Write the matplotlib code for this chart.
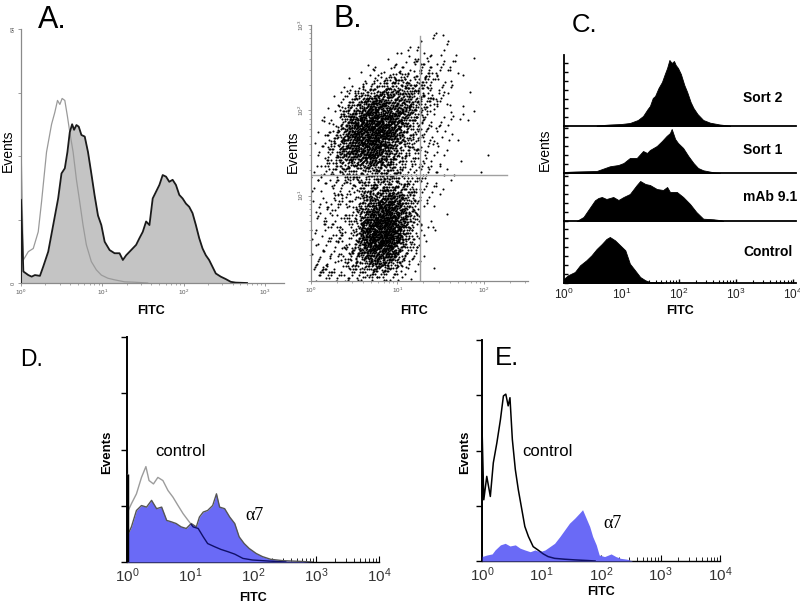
import numpy as np
import matplotlib.pyplot as plt
from matplotlib.ticker import LogLocator, NullFormatter, NullLocator, MultipleLocator

plt.rcParams['font.family'] = ['Liberation Sans', 'DejaVu Sans']
plt.rcParams['mathtext.fontset'] = 'custom'
plt.rcParams['mathtext.rm'] = 'Liberation Sans'
plt.rcParams['mathtext.bf'] = 'Liberation Sans:bold'

# *** data (x in decades of FITC, y in events) ***
# A: single histogram overlay
a_ctrl_dec = [0, 0, 0.029, 0.09, 0.151, 0.212, 0.253, 0.314, 0.376, 0.416, 0.449, 0.478, 0.506, 0.539,
              0.571, 0.6, 0.641, 0.682, 0.722, 0.763, 0.804, 0.865, 0.927, 0.988, 1.069, 1.151, 1.273,
              1.396, 1.559]
a_ctrl = [0, 35, 5.8, 7.9, 8.7, 12.9, 20.5, 33, 40, 43, 46, 45, 46.5, 46, 42, 38, 33, 26, 20.5, 14.6,
          9.6, 5.4, 3.3, 2.0, 1.2, 0.8, 0.3, 0.2, 0]
a_smp_dec = [0, 0, 0.029, 0.09, 0.131, 0.171, 0.233, 0.273, 0.335, 0.396, 0.457, 0.498, 0.539, 0.571,
             0.6, 0.629, 0.653, 0.682, 0.71, 0.743, 0.784, 0.824, 0.865, 0.906, 0.947, 0.988, 1.029,
             1.09, 1.151, 1.212, 1.253, 1.294, 1.355, 1.416, 1.457, 1.498, 1.539, 1.58, 1.62, 1.661,
             1.702, 1.743, 1.784, 1.824, 1.865, 1.906, 1.947, 1.988, 2.029, 2.069, 2.11, 2.151, 2.192,
             2.233, 2.273, 2.314, 2.355, 2.396, 2.457, 2.518, 2.58, 2.641, 2.78]
a_smp = [0, 21, 2.9, 2.0, 1.6, 2.0, 1.8, 4.1, 7.9, 14.6, 21.3, 27.6, 28.9, 33, 38, 40, 38.6, 39.8, 39.4,
         37.3, 36.9, 33, 27.6, 22, 17, 14.6, 10.4, 8.3, 7.5, 7.5, 5.8, 7, 8.3, 9.6, 11.3, 12.9, 15.5,
         14.6, 21.3, 23, 24.7, 27.2, 26.8, 25.5, 26, 24.7, 22.2, 21.3, 20, 19.2, 17.6, 14.6, 11.3, 8.7,
         7, 5.8, 4.1, 2.4, 1.6, 1.0, 0.3, 0.1, 0]

# B: dot plot, event counts per 0.2-decade cell (rows bottom -> top, columns left -> right)
b_x_centers = [0.1, 0.3, 0.5, 0.7, 0.9, 1.1, 1.3, 1.5, 1.7, 1.9, 2.1, 2.3, 2.5]
b_y_centers = [0.1, 0.3, 0.5, 0.7, 0.9, 1.1, 1.3, 1.5, 1.7, 1.9, 2.1, 2.3, 2.5, 2.7, 2.9]
b_counts = [
    [22, 22, 25, 38, 30, 8, 2, 0, 0, 0, 0, 0, 0],
    [9, 15, 30, 140, 145, 22, 2, 0, 0, 0, 0, 0, 0],
    [9, 15, 30, 195, 230, 55, 3, 0, 0, 0, 0, 0, 0],
    [9, 15, 25, 175, 230, 80, 6, 0, 0, 0, 0, 0, 0],
    [9, 15, 20, 100, 165, 70, 9, 2, 0, 0, 0, 0, 0],
    [8, 15, 22, 45, 68, 45, 12, 3, 0, 0, 0, 0, 0],
    [8, 28, 52, 60, 52, 30, 12, 5, 2, 0, 1, 0, 0],
    [6, 40, 135, 165, 95, 30, 12, 6, 0, 1, 0, 0, 0],
    [3, 35, 160, 200, 150, 55, 15, 8, 2, 0, 0, 0, 0],
    [0, 14, 110, 180, 165, 80, 22, 8, 3, 1, 0, 0, 0],
    [0, 5, 45, 110, 120, 80, 30, 9, 3, 0, 0, 0, 0],
    [0, 0, 5, 22, 45, 55, 38, 12, 3, 0, 0, 0, 0],
    [0, 0, 0, 2, 6, 15, 18, 9, 3, 0, 0, 0, 0],
    [0, 0, 0, 0, 0, 3, 6, 6, 2, 0, 0, 0, 0],
    [0, 0, 0, 0, 0, 0, 1, 2, 0, 0, 0, 0, 0],
]
b_gate_x = 18
b_gate_y = 17.5

# C: stacked histograms
c_names = ["Sort 2", "Sort 1", "mAb 9.1", "Control"]
c_dec = [
    [0.57, 0.8, 1.0, 1.15, 1.29, 1.38, 1.46, 1.5, 1.55, 1.59, 1.65, 1.71, 1.76, 1.8, 1.84, 1.88, 1.92,
     1.95, 1.99, 2.04, 2.1, 2.15, 2.21, 2.26, 2.33, 2.43, 2.55, 2.72, 2.9],
    [0.0, 0.2, 0.57, 0.8, 0.95, 1.04, 1.15, 1.27, 1.38, 1.45, 1.5, 1.62, 1.71, 1.79, 1.85, 1.88, 1.94,
     1.99, 2.08, 2.17, 2.26, 2.34, 2.43, 2.61, 2.72],
    [0.22, 0.34, 0.42, 0.54, 0.6, 0.66, 0.74, 0.86, 0.95, 1.04, 1.15, 1.27, 1.33, 1.36, 1.42, 1.5, 1.62,
     1.73, 1.8, 1.85, 1.97, 2.08, 2.2, 2.31, 2.43, 2.61, 2.75, 2.78],
    [0, 0.07, 0.19, 0.28, 0.39, 0.48, 0.57, 0.66, 0.74, 0.8, 0.89, 0.98, 1.07, 1.15, 1.24, 1.33, 1.42,
     1.5, 1.67, 1.73],
]
c_events = [
    [0.5, 1.5, 2, 3, 6, 10, 17, 20, 28, 30, 38, 44, 52, 58, 66, 63, 65, 61, 58, 52, 41, 34, 24, 18, 12,
     6, 3.3, 1.5, 0.3],
    [1, 1.5, 2, 6.7, 8, 10, 15, 15, 22, 20, 23, 27, 32, 37, 40, 44, 34, 30, 25, 17, 10, 5, 2.7, 0.7, 0],
    [0, 4, 10.7, 20.7, 23, 24, 22, 24, 21, 24, 27, 36, 40, 39, 37, 36, 32, 31, 34, 29, 29, 24, 17, 9,
     2.3, 1.7, 0.7, 0],
    [4.3, 7.7, 11, 17.7, 22.7, 27.7, 34, 39, 44, 46, 42.7, 37.7, 32.7, 19.3, 12.7, 6, 2.7, 1, 0.7, 0],
]
c_ymax = [71, 47, 48, 62]

# D
d_ctrl_dec = [0, 0, 0.02, 0.07, 0.15, 0.23, 0.3, 0.35, 0.42, 0.49, 0.57, 0.65, 0.73, 0.81, 0.89, 0.97,
              1.05, 1.13, 1.21, 1.28, 1.39, 1.49, 1.6, 1.71, 1.84, 1.99, 2.26, 2.52]
d_ctrl = [0, 55, 22.9, 25.9, 30.3, 37.6, 42.4, 36.2, 34.7, 37.6, 36.2, 31.8, 28.8, 25.1, 21.5, 18.5,
          15.6, 14.9, 11.2, 8.2, 6.8, 5.6, 4.6, 3.5, 1.6, 0.9, 0.4, 0]
d_a7_dec = [0, 0, 0.02, 0.07, 0.15, 0.23, 0.31, 0.39, 0.47, 0.55, 0.63, 0.71, 0.78, 0.86, 0.94, 1.02,
            1.1, 1.15, 1.21, 1.28, 1.36, 1.42, 1.47, 1.55, 1.63, 1.71, 1.78, 1.86, 1.94, 2.05, 2.15,
            2.28, 2.47, 2.73, 2.94]
d_a7 = [0, 39, 12.6, 15.6, 22.9, 25.1, 24.4, 27.4, 23.7, 24.4, 18.5, 17.8, 17.1, 15.6, 14.9, 17.1,
        15.6, 20, 22.2, 22.9, 25.1, 30.3, 24.4, 23.7, 20, 17.1, 11.2, 8.2, 6, 3.8, 2.4, 1.2, 0.6, 0.3, 0]

# E
e_ctrl_dec = [0, 0, 0.03, 0.08, 0.14, 0.19, 0.25, 0.31, 0.36, 0.4, 0.44, 0.47, 0.51, 0.56, 0.61, 0.67,
              0.72, 0.78, 0.86, 0.94, 1.03, 1.11, 1.22, 1.39, 1.56, 1.78, 1.9]
e_ctrl = [0, 61, 27.7, 38.3, 29.2, 44.4, 53.5, 64, 74.7, 75.5, 70.2, 73.9, 55, 41.4, 32.3, 23.2, 15.6,
          11.1, 6.5, 5, 3.2, 2, 1.2, 0.8, 0.5, 0.2, 0]
e_a7_dec = [0, 0.08, 0.17, 0.22, 0.31, 0.39, 0.47, 0.56, 0.64, 0.72, 0.81, 0.89, 0.97, 1.06, 1.14,
            1.22, 1.31, 1.39, 1.47, 1.56, 1.64, 1.69, 1.75, 1.81, 1.86, 1.92, 1.97, 2.06, 2.17, 2.25,
            2.33, 2.44, 2.53]
e_a7 = [2, 2.7, 3.2, 5, 7.3, 8, 6.8, 7.3, 5.8, 5, 4.2, 5, 4.2, 5, 6.5, 8, 11.1, 14.1, 17.1, 19.4, 21.7,
        23.2, 19.4, 15.6, 11.1, 7.3, 2.7, 2, 3.2, 2, 1.2, 0.8, 0]

W, H = 800, 609
BLUE = '#6a6af6'
fig = plt.figure(figsize=(W / 100, H / 100), dpi=100)


def px_axes(x0, y0, x1, y1):
    return fig.add_axes([x0 / W, 1 - y1 / H, (x1 - x0) / W, (y1 - y0) / H])


def px_text(x, y, s, **kw):
    return fig.text(x / W, 1 - y / H, s, **kw)


def fitc(dec):
    return 10 ** np.asarray(dec, dtype=float)


def sup_labels(n):
    return [r'$\mathregular{10^{%d}}$' % i for i in range(n)]


def log_minor(axis):
    axis.set_minor_locator(LogLocator(base=10, subs=np.arange(2, 10), numticks=20))
    axis.set_minor_formatter(NullFormatter())


def faint_axes(ax):
    for s in ['top', 'right']:
        ax.spines[s].set_visible(False)
    for s in ['left', 'bottom']:
        ax.spines[s].set_color('#8a8a8a')
        ax.spines[s].set_linewidth(0.9)
    ax.tick_params(length=2, width=0.6, color='#8a8a8a', pad=1.5)
    ax.tick_params(which='minor', length=1.2, width=0.5, color='#8a8a8a')


# *** A ***
ax = px_axes(21, 29, 284, 283)
ax.fill_between(fitc(a_smp_dec), a_smp, color='#c4c4c4', lw=0, zorder=1)
ax.plot(fitc(a_ctrl_dec), a_ctrl, color='#9a9a9a', lw=0.9, zorder=2)
ax.plot(fitc(a_smp_dec), a_smp, color='#1a1a1a', lw=1.3, zorder=3)
ax.set_xscale('log')
ax.set_xlim(1, 10 ** 3.235)
ax.set_ylim(0, 64)
ax.set_xticks([1, 10, 100, 1000])
ax.set_xticklabels(sup_labels(4), fontsize=4.5, color='#555555')
log_minor(ax.xaxis)
ax.set_yticks([0, 16, 32, 48, 64])
ax.set_yticklabels(['0', '', '', '', '64'], fontsize=4, rotation=90, va='center', color='#555555')
faint_axes(ax)

# *** B ***
# each cell's dots are laid out with a low-discrepancy pattern and a tent
# kernel one cell wide, so neighbouring cells blend without seams
ax = px_axes(311, 25, 528, 281)
B_CELL = 0.2
g = 1.1673039782614187
alph = [1 / g ** p for p in range(1, 5)]
xs, ys = [], []
k = 0
for r, row in enumerate(b_counts):
    for c, n in enumerate(row):
        i = np.arange(k, k + n)
        k += n
        u = [(0.5 + i * a) % 1 for a in alph]
        xs.append(b_x_centers[c] + B_CELL * (u[0] + u[1] - 1))
        ys.append(b_y_centers[r] + B_CELL * (u[2] + u[3] - 1))
xs = np.concatenate(xs)
ys = np.concatenate(ys)
ax.scatter(10 ** xs, 10 ** ys, s=2.2, marker='o', color='black', linewidths=0)
ax.plot([b_gate_x, b_gate_x], [1, 10 ** 2.87], color='#a0a0a0', lw=1.0)
ax.plot([1, 10 ** 2.27], [b_gate_y, b_gate_y], color='#a0a0a0', lw=1.0)
ax.set_xscale('log')
ax.set_yscale('log')
ax.set_xlim(1, 10 ** 2.51)
ax.set_ylim(1, 1000)
ax.set_xticks([1, 10, 100])
ax.set_xticklabels(sup_labels(3), fontsize=4.5, color='#555555')
ax.set_yticks([1, 10, 100, 1000])
ax.set_yticklabels([''] + sup_labels(4)[1:], fontsize=4.5, rotation=90, va='center', color='#555555')
log_minor(ax.xaxis)
log_minor(ax.yaxis)
faint_axes(ax)

# *** C ***
c_rows = [(55, 126), (126, 173), (173, 221), (221, 283)]
for idx, (top, bot) in enumerate(c_rows):
    ax = px_axes(564, top, 796, bot)
    ax.fill_between(fitc(c_dec[idx]), c_events[idx], color='black', lw=0.6, edgecolor='black')
    ax.set_xscale('log')
    ax.set_xlim(1, 10 ** 4.05)
    ax.set_ylim(0, c_ymax[idx])
    ax.patch.set_alpha(0)
    for s in ['top', 'right']:
        ax.spines[s].set_visible(False)
    ax.spines['left'].set_linewidth(1.3)
    ax.spines['bottom'].set_linewidth(1.3)
    ax.yaxis.set_major_locator(MultipleLocator(9))
    ax.set_yticklabels([])
    ax.tick_params(axis='y', direction='in', length=3, width=1)
    if idx < 3:
        ax.xaxis.set_major_locator(NullLocator())
        ax.xaxis.set_minor_locator(NullLocator())
    else:
        ax.set_xticks([1, 10, 100, 1000, 10000])
        ax.set_xticklabels(sup_labels(5), fontsize=8.5, color='#222222')
        log_minor(ax.xaxis)
        ax.tick_params(axis='x', direction='in', length=3, width=1, pad=3)
        ax.tick_params(axis='x', which='minor', direction='in', length=2, width=0.8)
    px_text(743, (top + bot) / 2 + (8 if idx == 0 else 0), c_names[idx], fontsize=10,
            fontweight='bold', va='center', ha='left')


def flow_axes(x0, y0, x1, y1):
    ax = px_axes(x0, y0, x1, y1)
    ax.set_xscale('log')
    ax.set_xlim(1, 1e4)
    ax.set_ylim(0, 100)
    for s in ['top', 'right']:
        ax.spines[s].set_visible(False)
    ax.spines['left'].set_linewidth(1.4)
    ax.spines['bottom'].set_linewidth(1.0)
    ax.set_yticks([0, 25, 50, 75, 100])
    ax.set_yticklabels([])
    ax.tick_params(axis='y', direction='out', length=4, width=1)
    ax.set_xticks([1, 10, 100, 1000, 10000])
    ax.set_xticklabels(sup_labels(5), fontsize=11, color='#333333')
    log_minor(ax.xaxis)
    ax.tick_params(axis='x', direction='in', length=4, width=0.8, pad=3)
    ax.tick_params(axis='x', which='minor', direction='in', length=3, width=0.6)
    return ax


# *** D ***
ax = flow_axes(127, 337, 379, 562)
ax.plot(fitc(d_ctrl_dec), d_ctrl, color='#9c9c9c', lw=1.0, zorder=2)
poly = ax.fill_between(fitc(d_a7_dec), d_a7, color=BLUE, lw=0, zorder=3)
ax.plot(fitc(d_a7_dec), d_a7, color='#555555', lw=1.0, zorder=4)
inner, = ax.plot(fitc(d_ctrl_dec), d_ctrl, color='#10106a', lw=1.0, zorder=5)
inner.set_clip_path(poly.get_paths()[0], ax.transData)
ax.plot([1, 1], [0, d_a7[1]], color='black', lw=2.5, zorder=6, solid_capstyle='butt')

# *** E ***
ax = flow_axes(482, 340, 720, 561)
ax.plot(fitc(e_ctrl_dec), e_ctrl, color='black', lw=1.1, zorder=2)
poly = ax.fill_between(fitc(e_a7_dec), e_a7, color=BLUE, lw=0, zorder=3)
inner, = ax.plot(fitc(e_ctrl_dec), e_ctrl, color='#10106a', lw=1.1, zorder=4)
inner.set_clip_path(poly.get_paths()[0], ax.transData)

# *** labels ***
px_text(38, 28, "A.", fontsize=22, va='baseline', ha='left')
px_text(333, 27, "B.", fontsize=22, va='baseline', ha='left')
px_text(572, 32, "C.", fontsize=18.5, va='baseline', ha='left')
px_text(20, 366, "D.", fontsize=16.5, va='baseline', ha='left')
px_text(495, 365, "E.", fontsize=18.5, va='baseline', ha='left')

px_text(8, 151, "Events", fontsize=10, rotation=90, va='center', ha='center')
px_text(293, 152, "Events", fontsize=10, rotation=90, va='center', ha='center')
px_text(545, 150, "Events", fontsize=10, rotation=90, va='center', ha='center')
px_text(107, 452, "Events", fontsize=9.5, fontweight='bold', rotation=90, va='center', ha='center')
px_text(465, 452, "Events", fontsize=9.5, fontweight='bold', rotation=90, va='center', ha='center')

for x, y in [(151, 311), (414, 311), (680, 311), (253, 598), (601, 592)]:
    px_text(x, y, "FITC", fontsize=9, fontweight='bold', va='center', ha='center')

px_text(180, 452, "control", fontsize=12, va='center', ha='center')
px_text(547, 452, "control", fontsize=12, va='center', ha='center')
px_text(254, 515, "α7", fontsize=13, family=['Liberation Serif', 'DejaVu Serif'], va='center', ha='center')
px_text(613, 524, "α7", fontsize=13, family=['Liberation Serif', 'DejaVu Serif'], va='center', ha='center')

fig.savefig("out.png", dpi=100)
plt.close(fig)
